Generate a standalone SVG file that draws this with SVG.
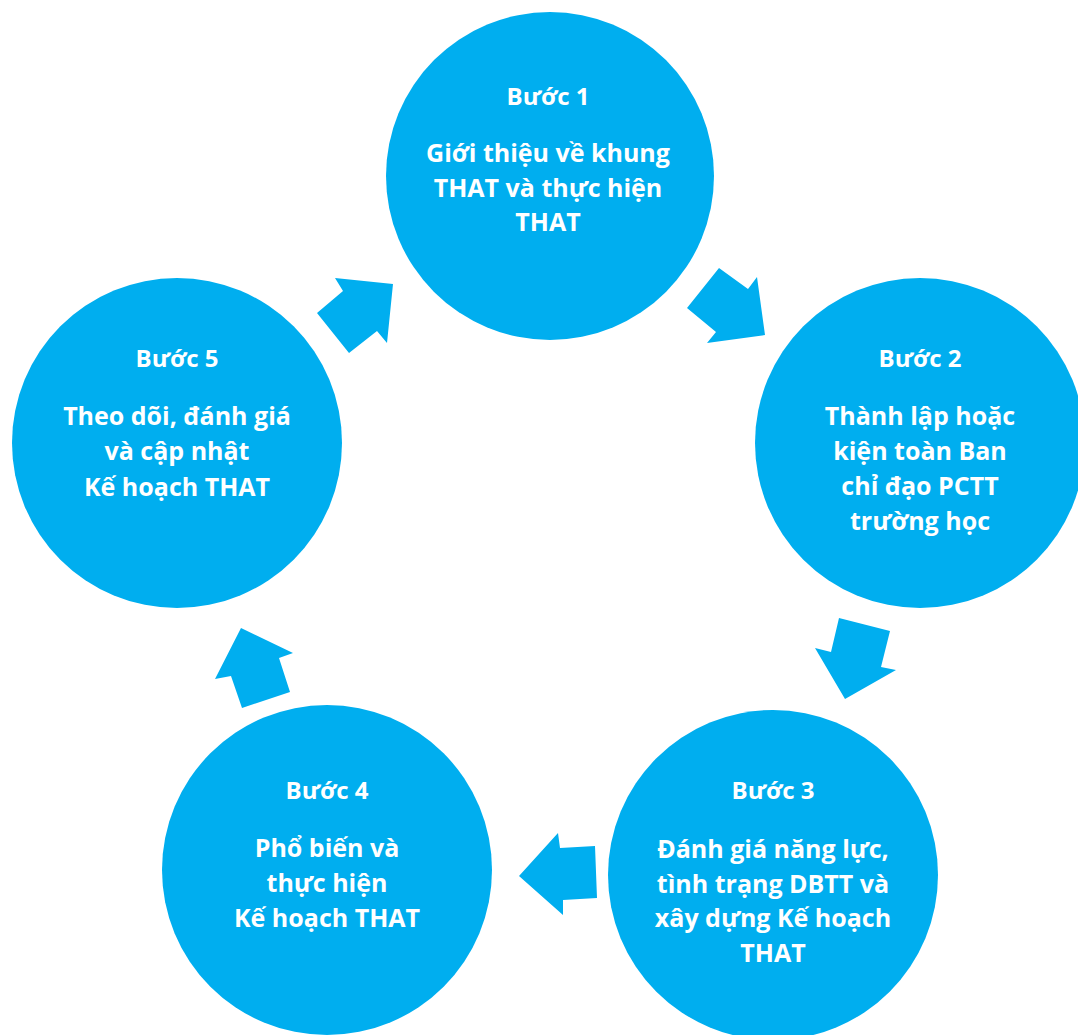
<svg xmlns="http://www.w3.org/2000/svg" width="1078" height="1035" viewBox="0 0 1078 1035">
<style>
.c{fill:#00AEEF}
.a{fill:#00AEEF}
text{font-family:"Open Sans","Liberation Sans",sans-serif;font-weight:bold;font-size:25px;fill:#fff;text-anchor:middle}
text.h{font-size:24px}
</style>
<rect width="1078" height="1035" fill="#fff"/>
<g id="connectors">
<polygon class="a" points="393,284 335,278 343,291 317,313 349,353 377,331 387,343"/>
<polygon class="a" points="719,268 748,289 757,277 765,335 707,343 716,332 687,308"/>
<polygon class="a" points="839,618 890,631 881,667 896,670 845,699 815,648 831,652"/>
<polygon class="a" points="519,876 558,833 560,848 595,846 597,898 563,900 563,915"/>
<polygon class="a" points="241,628 293,653 279,658 290,692 242,708 231,676 215,679"/>
</g>
<g id="step1">
<circle class="c" cx="550" cy="176" r="164"/>
<text class="h" x="548" y="105">Bước 1</text>
<text x="548" y="162">Giới thiệu về khung</text>
<text x="548" y="197">THAT và thực hiện</text>
<text x="548" y="231">THAT</text>
</g>
<g id="step2">
<circle class="c" cx="920" cy="443" r="165"/>
<text class="h" x="920" y="367">Bước 2</text>
<text x="920" y="425">Thành lập hoặc</text>
<text x="920" y="460">kiện toàn Ban</text>
<text x="920" y="495">chỉ đạo PCTT</text>
<text x="920" y="530">trường học</text>
</g>
<g id="step3">
<circle class="c" cx="773" cy="875" r="165"/>
<text class="h" x="773" y="799">Bước 3</text>
<text x="773" y="858">Đánh giá năng lực,</text>
<text x="773" y="893">tình trạng DBTT và</text>
<text x="773" y="927">xây dựng Kế hoạch</text>
<text x="773" y="962">THAT</text>
</g>
<g id="step4">
<circle class="c" cx="327" cy="870" r="165"/>
<text class="h" x="327" y="799">Bước 4</text>
<text x="327" y="857">Phổ biến và</text>
<text x="327" y="892">thực hiện</text>
<text x="327" y="927">Kế hoạch THAT</text>
</g>
<g id="step5">
<circle class="c" cx="177" cy="443" r="165"/>
<text class="h" x="177" y="367">Bước 5</text>
<text x="177" y="425">Theo dõi, đánh giá</text>
<text x="177" y="460">và cập nhật</text>
<text x="177" y="496">Kế hoạch THAT</text>
</g>
</svg>
